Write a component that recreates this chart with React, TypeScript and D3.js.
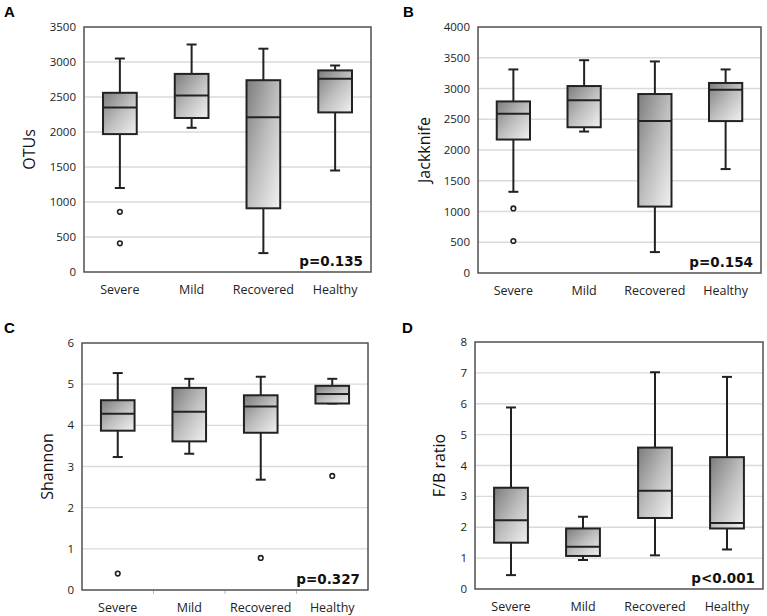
import React from 'react';
import * as d3 from 'd3';

const groups = ['Severe', 'Mild', 'Recovered', 'Healthy'];

// [low whisker, q1, median, q3, high whisker]
const otusBoxes = [
  [1200, 1970, 2350, 2560, 3050],
  [2060, 2200, 2520, 2830, 3250],
  [270, 910, 2210, 2740, 3190],
  [1450, 2280, 2760, 2880, 2950],
];
const otusOutliers = [[860, 410], [], [], []];

const jackBoxes = [
  [1320, 2170, 2590, 2790, 3310],
  [2300, 2370, 2810, 3040, 3460],
  [340, 1080, 2470, 2910, 3440],
  [1690, 2470, 2980, 3090, 3310],
];
const jackOutliers = [[1050, 520], [], [], []];

const shannonBoxes = [
  [3.23, 3.87, 4.28, 4.61, 5.27],
  [3.31, 3.61, 4.33, 4.91, 5.13],
  [2.68, 3.82, 4.46, 4.73, 5.18],
  [4.53, 4.53, 4.76, 4.96, 5.13],
];
const shannonOutliers = [[0.4], [], [0.78], [2.77]];

const fbBoxes = [
  [0.45, 1.5, 2.23, 3.28, 5.88],
  [0.94, 1.07, 1.37, 1.96, 2.34],
  [1.09, 2.3, 3.18, 4.58, 7.02],
  [1.28, 1.96, 2.14, 4.27, 6.87],
];
const fbOutliers = [[], [], [], []];

const otusTicks = [0, 500, 1000, 1500, 2000, 2500, 3000, 3500];
const jackTicks = [0, 500, 1000, 1500, 2000, 2500, 3000, 3500, 4000];
const shannonTicks = [0, 1, 2, 3, 4, 5, 6];
const fbTicks = [0, 1, 2, 3, 4, 5, 6, 7, 8];

const panels = [
  { letter: 'A', lx: 4, ly: 17, title: 'OTUs', tx: 29, rect: [84, 27, 371, 272], boxes: otusBoxes, outliers: otusOutliers, ticks: otusTicks, p: 'p=0.135', catTicks: false },
  { letter: 'B', lx: 403, ly: 17, title: 'Jackknife', tx: 424, rect: [478, 27, 761, 273], boxes: jackBoxes, outliers: jackOutliers, ticks: jackTicks, p: 'p=0.154', catTicks: false },
  { letter: 'C', lx: 4, ly: 333, title: 'Shannon', tx: 47, rect: [82, 343, 368, 590], boxes: shannonBoxes, outliers: shannonOutliers, ticks: shannonTicks, p: 'p=0.327', catTicks: true },
  { letter: 'D', lx: 402, ly: 333, title: 'F/B ratio', tx: 439, rect: [475, 342, 763, 589], boxes: fbBoxes, outliers: fbOutliers, ticks: fbTicks, p: 'p<0.001', catTicks: false },
];

const Panel = ({ cfg }) => {
  const [x0, y0, x1, y1] = cfg.rect;
  const y = d3.scaleLinear().domain([0, cfg.ticks[cfg.ticks.length - 1]]).range([y1, y0]);
  const x = d3.scaleBand().domain(groups).range([x0, x1]);
  const bw = x.bandwidth() * 0.47;
  const cap = 5;
  return (
    <g>
      <text x={cfg.lx} y={cfg.ly} fontFamily="Liberation Sans" fontWeight="bold" fontSize={15}>{cfg.letter}</text>
      {cfg.ticks.slice(1, -1).map(t => (
        <line key={t} x1={x0} x2={x1} y1={y(t)} y2={y(t)} stroke="#dadada" strokeWidth={1.3} />
      ))}
      {cfg.ticks.map(t => (
        <text key={'l' + t} x={x0 - 8} y={y(t)} dy="0.35em" textAnchor="end" fontFamily="Open Sans" fontSize={11.5} fill="#222">{t}</text>
      ))}
      {cfg.catTicks && groups.slice(1).map(g => (
        <line key={'ct' + g} x1={x(g)} x2={x(g)} y1={y1} y2={y1 + 4} stroke="#bbb" strokeWidth={1} />
      ))}
      <rect x={x0} y={y0} width={x1 - x0} height={y1 - y0} fill="none" stroke="#505050" strokeWidth={1.5} />
      {groups.map((g, i) => {
        const [lo, q1, med, q3, hi] = cfg.boxes[i];
        const cx = x(g) + x.bandwidth() / 2;
        return (
          <g key={g} stroke="#222" strokeWidth={2}>
            <line x1={cx} x2={cx} y1={y(hi)} y2={y(q3)} />
            <line x1={cx} x2={cx} y1={y(q1)} y2={y(lo)} />
            <line x1={cx - cap} x2={cx + cap} y1={y(hi)} y2={y(hi)} />
            <line x1={cx - cap} x2={cx + cap} y1={y(lo)} y2={y(lo)} />
            <rect x={cx - bw / 2} y={y(q3)} width={bw} height={y(q1) - y(q3)} fill="url(#boxGrad)" />
            <line x1={cx - bw / 2} x2={cx + bw / 2} y1={y(med)} y2={y(med)} />
            {cfg.outliers[i].map((o, k) => (
              <circle key={k} cx={cx} cy={y(o)} r={2.3} fill="#fff" strokeWidth={1.6} />
            ))}
          </g>
        );
      })}
      {groups.map(g => (
        <text key={'x' + g} x={x(g) + x.bandwidth() / 2} y={y1 + 22} textAnchor="middle" fontFamily="Open Sans" fontSize={12.5} fill="#222">{g}</text>
      ))}
      <text x={x1 - 8} y={y1 - 6} textAnchor="end" fontFamily="DejaVu Sans" fontWeight="bold" fontSize={13.5} fill="#111">{cfg.p}</text>
      <text transform={`translate(${cfg.tx},${(y0 + y1) / 2}) rotate(-90)`} textAnchor="middle" dy="0.35em" fontFamily="Open Sans" fontSize={16} fill="#111">{cfg.title}</text>
    </g>
  );
};

export default function App() {
  return (
    <div style={{ position: 'absolute', left: 0, top: 0 }}>
      <svg width={767} height={616} style={{ display: 'block', background: '#fff' }}>
        <defs>
          <linearGradient id="boxGrad" x1="0" y1="0" x2="1" y2="1">
            <stop offset="0" stopColor="#7c7c7c" />
            <stop offset="0.5" stopColor="#bdbdbd" />
            <stop offset="1" stopColor="#f2f2f2" />
          </linearGradient>
        </defs>
        {panels.map(p => <Panel key={p.letter} cfg={p} />)}
      </svg>
    </div>
  );
}
